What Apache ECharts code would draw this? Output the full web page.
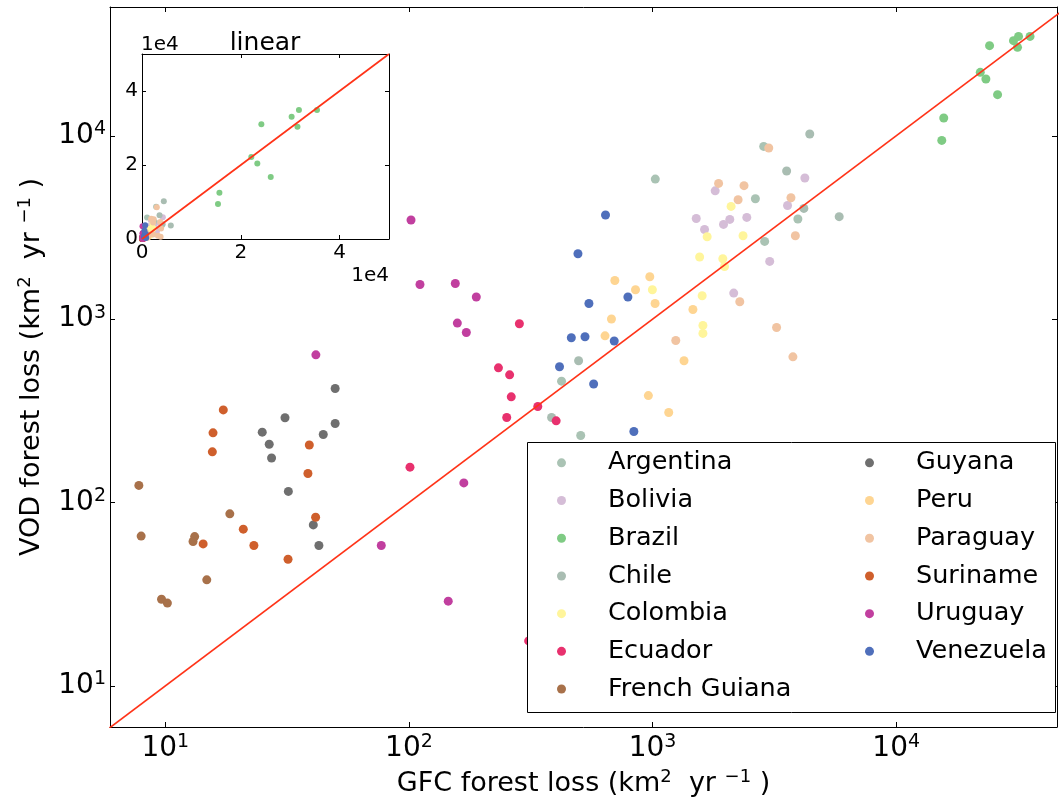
<!DOCTYPE html>
<html>
<head>
<meta charset="utf-8">
<script src="https://cdn.jsdelivr.net/npm/echarts@6/dist/echarts.min.js"></script>
<style>
  html, body { margin: 0; padding: 0; background: #fff; }
  #main { width: 1060px; height: 807px; }
</style>
</head>
<body>
<div id="main"></div>
<script>
// GFC (x) vs VOD (y) forest loss, km2/yr
var argentinaGfc = [2858, 1026, 2642, 3948, 2884, 423, 507];
var argentinaVod = [8750, 5808, 4538, 3516, 2655, 459, 232];
var boliviaGfc = [1807, 1511, 1634, 1955, 2075, 2436, 3581, 4217, 3025, 2153];
var boliviaVod = [5012, 3542, 3085, 3286, 3499, 3589, 4170, 5888, 2065, 1388];
var brazilGfc = [24160, 30290, 31770, 35420, 31470, 22130, 23340, 26060, 15670, 15380];
var brazilVod = [31030, 33030, 34850, 34850, 30360, 22180, 20420, 16760, 12500, 9440];
var chileGfc = [4417, 3550, 4178, 5834, 497, 385];
var chileVod = [10230, 6427, 4018, 3622, 593, 291];
var colombiaGfc = [2100, 1675, 2351, 1560, 1942, 1974, 998, 1598, 1609, 1609];
var colombiaVod = [4121, 2815, 2851, 2182, 2136, 1939, 1447, 1342, 924, 836];
var ecuadorGfc = [284, 233, 259, 263, 338, 252, 402, 101, 310];
var ecuadorVod = [944, 543, 497, 377, 334, 291, 279, 156, 17.6];
var frGuianaGfc = [7.79, 7.96, 13.2, 13.0, 18.4, 14.8, 9.65, 10.2];
var frGuianaVod = [124, 65.6, 65.2, 61.3, 86.8, 37.9, 29.7, 28.3];
var guyanaGfc = [49.8, 31.0, 25.0, 26.7, 44.5, 49.8, 27.3, 32.0, 40.5, 42.7];
var guyanaVod = [419, 290, 242, 208, 235, 270, 175, 115, 75.5, 58.3];
var peruGfc = [700, 851, 974, 1024, 678, 638, 1464, 1346, 961, 1165];
var peruVod = [1626, 1447, 1704, 1218, 1002, 811, 1130, 593, 383, 310];
var paraguayGfc = [2998, 1866, 2373, 2244, 3698, 3855, 2280, 3228, 3767, 1245];
var paraguayVod = [8577, 5499, 5346, 4479, 4596, 2851, 1245, 901, 623, 765];
var surinameGfc = [17.3, 15.7, 15.6, 39.0, 38.5, 41.4, 20.9, 23.1, 14.3, 31.9];
var surinameVod = [320, 240, 189, 206, 144, 83.2, 71.6, 58.3, 59.5, 49.1];
var uruguayGfc = [102, 111, 155, 189, 158, 172, 41.5, 168, 77, 145];
var uruguayVod = [3475, 1546, 1566, 1321, 952, 846, 639, 128, 58.3, 29.0];
var venezuelaGfc = [641, 494, 792, 548, 464, 528, 696, 415, 573, 838];
var venezuelaVod = [3698, 2275, 1321, 1218, 792, 802, 760, 550, 443, 244];

var countryNames = ['Argentina', 'Bolivia', 'Brazil', 'Chile', 'Colombia', 'Ecuador', 'French Guiana',
    'Guyana', 'Peru', 'Paraguay', 'Suriname', 'Uruguay', 'Venezuela'];
var gfcLists = [argentinaGfc, boliviaGfc, brazilGfc, chileGfc, colombiaGfc, ecuadorGfc, frGuianaGfc,
    guyanaGfc, peruGfc, paraguayGfc, surinameGfc, uruguayGfc, venezuelaGfc];
var vodLists = [argentinaVod, boliviaVod, brazilVod, chileVod, colombiaVod, ecuadorVod, frGuianaVod,
    guyanaVod, peruVod, paraguayVod, surinameVod, uruguayVod, venezuelaVod];

// 1:1 reference line
var oneToOneLog = [1, 100000];
var oneToOneLin = [0, 50000];

var colors = ['#aac3b4', '#d5bdd7', '#7fcb84', '#a9bdb2', '#fff59b', '#e8316e', '#a8714a',
    '#6f6f6f', '#fed592', '#f1c4a2', '#cf5f2c', '#c13f9f', '#4f6fbb'];

var FONT = 'DejaVu Sans';

function pairs(xs, ys) {
    var out = [];
    for (var i = 0; i < xs.length; i++) out.push([xs[i], ys[i]]);
    return out;
}

function powLabel(v) {
    var l = Math.log(v) / Math.LN10;
    var e = Math.round(l);
    if (Math.abs(l - e) > 1e-6) return '';
    return '{b|10}{s|' + e + '}';
}

var powRich = {
    b: { fontFamily: FONT, fontSize: 28, lineHeight: 32, color: '#000' },
    s: { fontFamily: FONT, fontSize: 19, lineHeight: 19, verticalAlign: 'top', color: '#000' }
};

var nameRich = {
    t: { fontFamily: FONT, fontSize: 27, lineHeight: 32, color: '#000' },
    s: { fontFamily: FONT, fontSize: 18, lineHeight: 18, verticalAlign: 'top', color: '#000' }
};

function logAxis(grid, pos, withLabel, name) {
    var isX = pos === 'bottom' || pos === 'top';
    return {
        type: 'log',
        gridIndex: grid,
        position: pos,
        min: isX ? 5.93 : 5.97,
        max: isX ? 45700 : 50400,
        name: name || '',
        nameLocation: 'middle',
        nameGap: isX ? 41 : 62,
        nameTextStyle: { rich: nameRich },
        axisLine: { show: true, onZero: false, lineStyle: { color: '#000', width: 1 } },
        axisTick: { show: true, inside: true, length: 5, lineStyle: { color: '#000' } },
        axisLabel: {
            show: withLabel,
            margin: isX ? 6 : 4,
            formatter: powLabel,
            rich: powRich
        },
        splitLine: { show: false }
    };
}

function linAxis(grid, pos, withLabel) {
    return {
        type: 'value',
        gridIndex: grid,
        position: pos,
        min: 0,
        max: 50000,
        interval: 20000,
        axisLine: { show: true, onZero: false, lineStyle: { color: '#000', width: 1 } },
        axisTick: { show: true, inside: true, length: 4, lineStyle: { color: '#000' } },
        axisLabel: {
            show: withLabel,
            margin: 4,
            fontFamily: FONT,
            fontSize: 20,
            color: '#000',
            formatter: function (v) { return v % 20000 === 0 ? String(v / 10000) : ''; }
        },
        splitLine: { show: false }
    };
}

var series = [];
for (var i = 0; i < countryNames.length; i++) {
    var d = pairs(gfcLists[i], vodLists[i]);
    series.push({
        name: countryNames[i], type: 'scatter', xAxisIndex: 0, yAxisIndex: 0,
        symbolSize: 9, data: d, itemStyle: { color: colors[i], opacity: 1 }, z: 2
    });
    series.push({
        name: countryNames[i], type: 'scatter', xAxisIndex: 2, yAxisIndex: 2,
        symbolSize: 6, data: d, itemStyle: { color: colors[i], opacity: 1 }, z: 2
    });
}
series.push({
    type: 'line', xAxisIndex: 0, yAxisIndex: 0, symbol: 'none', clip: true,
    data: pairs(oneToOneLog, oneToOneLog), lineStyle: { color: '#ff3318', width: 1.7 }, z: 3
});
series.push({
    type: 'line', xAxisIndex: 2, yAxisIndex: 2, symbol: 'none', clip: true,
    data: pairs(oneToOneLin, oneToOneLin), lineStyle: { color: '#ff3318', width: 1.7 }, z: 3
});

function legendPart(left, names) {
    return {
        orient: 'vertical', left: left, top: 444, padding: 0, itemGap: 0,
        icon: 'circle', itemWidth: 9, itemHeight: 9,
        selectedMode: false, z: 30,
        textStyle: { fontFamily: FONT, fontSize: 25.5, color: '#000', lineHeight: 37.7, padding: [0, 0, 0, 37] },
        data: names
    };
}

var chart = echarts.init(document.getElementById('main'), null, { renderer: 'canvas' });

chart.setOption({
    animation: false,
    backgroundColor: '#fff',
    grid: [
        { left: 110, top: 7, width: 949, height: 720, show: false },
        { left: 142, top: 54, width: 247, height: 185, show: false }
    ],
    xAxis: [
        logAxis(0, 'bottom', true, '{t|GFC forest loss (km}{s|2}{t|  yr }{s|\u22121}{t| )}'),
        logAxis(0, 'top', false),
        linAxis(1, 'bottom', true),
        linAxis(1, 'top', false)
    ],
    yAxis: [
        logAxis(0, 'left', true, '{t|VOD forest loss (km}{s|2}{t|  yr }{s|\u22121}{t| )}'),
        logAxis(0, 'right', false),
        linAxis(1, 'left', true),
        linAxis(1, 'right', false)
    ],
    legend: [
        legendPart(557, countryNames.slice(0, 7)),
        legendPart(865, countryNames.slice(7))
    ],
    graphic: [
        {
            type: 'rect', z: 20,
            shape: { x: 527.5, y: 442.5, width: 528, height: 270 },
            style: { fill: '#fff', stroke: '#000', lineWidth: 1 }
        },
        {
            type: 'text', z: 20, x: 265, y: 43,
            style: { text: 'linear', font: '25px "DejaVu Sans"', fill: '#000', textAlign: 'center', textVerticalAlign: 'middle' }
        },
        {
            type: 'text', z: 20, x: 141, y: 45,
            style: { text: '1e4', font: '20px "DejaVu Sans"', fill: '#000', textAlign: 'left', textVerticalAlign: 'middle' }
        },
        {
            type: 'text', z: 20, x: 389, y: 276,
            style: { text: '1e4', font: '20px "DejaVu Sans"', fill: '#000', textAlign: 'right', textVerticalAlign: 'middle' }
        }
    ],
    series: series
});
</script>
</body>
</html>
